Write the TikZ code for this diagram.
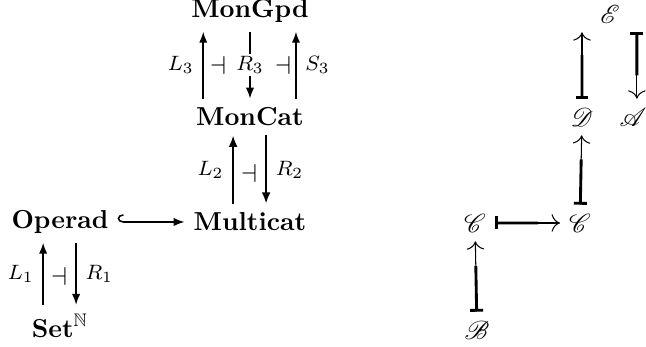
\documentclass[tikz,border=0pt]{standalone}
\usepackage{amssymb}
\usepackage{mathrsfs}
\usetikzlibrary{arrows.meta,calc}

\tikzset{
  adj/.style={semithick,-{Latex[length=4.2pt,width=3.2pt]}},
  adjthick/.style={thick,-{Latex[length=4.4pt,width=3.4pt]}},
  hookarr/.style={semithick,{Hooks[right,length=2.2pt,width=6pt]}-{Latex[length=4.2pt,width=3.2pt]}},
  lbl/.style={font=\footnotesize},
  mapthin/.style={line width=0.4pt,-{To[scale=1.3]}},
  mapthick/.style={line width=1.1pt,{Bar[width=5pt]}-},
}

\begin{document}
\begin{tikzpicture}[x=0.385pt,y=-0.385pt]
\useasboundingbox (0,0) rectangle (646,347);
% left diagram
\node (mongpd) at (250,11) {\textbf{MonGpd}};
\node (moncat) at (250,117) {\textbf{MonCat}};
\node (multicat) at (250,222) {\textbf{Multicat}};
\node (operad) at (60,222) {\textbf{Operad}};
\node (setn) at (60,326) {$\mathbf{Set}^{\mathbb{N}}$};
\draw[adj] ([xshift=-18pt]moncat.north) -- node[lbl,left] {$L_3$} ([xshift=-18pt]mongpd.south);
\draw[adj] (mongpd.south) -- node[lbl,fill=white,inner sep=1pt] {$R_3$} (moncat.north);
\draw[adj] ([xshift=17.7pt]moncat.north) -- node[lbl,right] {$S_3$} ([xshift=17.7pt]mongpd.south);
\node at (218,65) {$\dashv$};
\node at (283,65) {$\dashv$};
\draw[adjthick] ([xshift=-6.5pt]multicat.north) -- node[lbl,left] {$L_2$} ([xshift=-6.5pt]moncat.south);
\draw[adjthick] ([xshift=6.2pt]moncat.south) -- node[lbl,right] {$R_2$} ([xshift=6.2pt]multicat.north);
\node at (249,173) {$\dashv$};
\draw[hookarr] (operad) -- (multicat);
\draw[adj] ([xshift=-6.5pt]setn.north) -- node[lbl,left] {$L_1$} ([xshift=-6.5pt]operad.south);
\draw[adj] ([xshift=6.2pt]operad.south) -- node[lbl,right] {$R_1$} ([xshift=6.2pt]setn.north);
\node at (59,276) {$\dashv$};
% right diagram
\node (E) at (610,14) {$\mathscr{E}$};
\node (D) at (582,117) {$\mathscr{D}$};
\node (A) at (633,117) {$\mathscr{A}$};
\node (C1) at (475,223) {$\mathscr{C}$};
\node (C2) at (580,223) {$\mathscr{C}$};
\node (B) at (477,330) {$\mathscr{B}$};
\coordinate (Dtop) at (D.north |- E.south);
\coordinate (Atop) at ([xshift=1.5pt]A.north |- E.south);
\draw[mapthin] (D) -- (Dtop);
\draw[mapthick] (D) -- ($(D)!.6!(D |- E)$);
\draw[mapthin] (Atop) -- ([xshift=1.5pt]A.north);
\draw[mapthick] (Atop) -- ($(Atop)!.65!([xshift=1.5pt]A.north)$);
\draw[mapthin] (C2) -- (D);
\draw[mapthick] (C2) -- ($(C2)!.6!(D)$);
\draw[mapthin] (C1) -- (C2);
\draw[mapthick] (C1) -- ($(C1)!.6!(C2)$);
\draw[mapthin] (B) -- (C1);
\draw[mapthick] (B) -- ($(B)!.6!(C1)$);
\end{tikzpicture}
\end{document}
